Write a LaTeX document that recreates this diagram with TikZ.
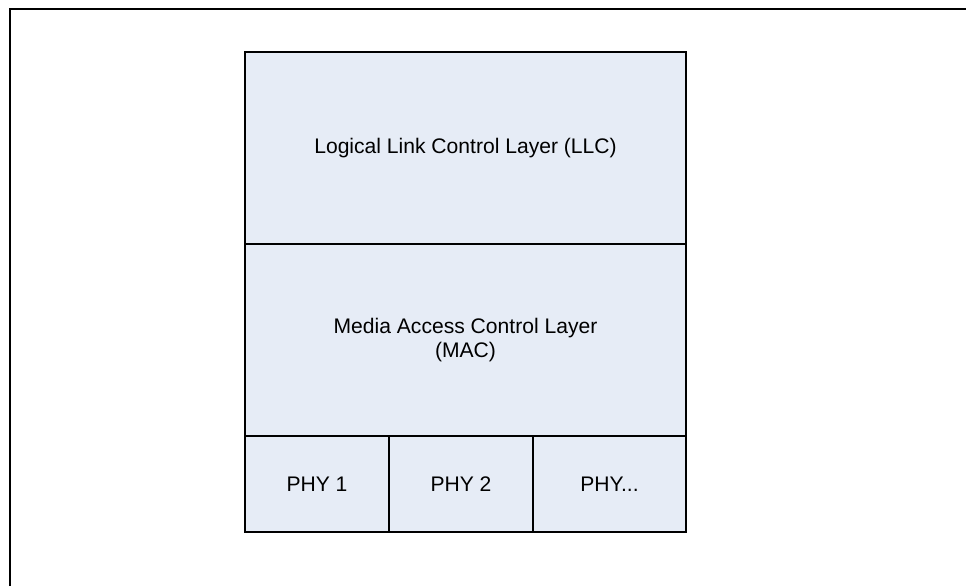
\documentclass[tikz,border=0pt]{standalone}
\usepackage{fontspec}
\setmainfont{Liberation Sans}
\definecolor{layerblue}{RGB}{230,236,246}
\usetikzlibrary{positioning}

\begin{document}
\begin{tikzpicture}[
    layer/.style={draw,line width=1.1pt,fill=layerblue,outer sep=0pt,inner sep=0pt,
        align=center,font=\fontsize{12}{13.6}\selectfont},
    wide/.style={minimum width=8.82cm,minimum height=3.84cm},
    cell/.style={minimum width=#1,minimum height=1.92cm}
]
    \useasboundingbox (0,0) rectangle (19.32,11.72);

    % Frame
    \coordinate (fbl) at (0.2,0);
    \coordinate (ftl) at (0.2,11.54);
    \coordinate (ftr) at (19.32,11.54);
    \draw[line width=1.05pt] (fbl) -- (ftl) -- (ftr);

    % Layers
    \node[layer,wide] (llc) at (9.31,8.76) {Logical Link Control Layer (LLC)};
    \node[layer,wide,below=0pt of llc] (mac) {Media Access Control Layer\\(MAC)};

    % PHY
    \node[layer,cell=2.88cm,anchor=north west] (phy1) at (mac.south west) {PHY 1};
    \node[layer,cell=2.88cm,right=0pt of phy1] (phy2) {PHY 2};
    \node[layer,cell=3.06cm,right=0pt of phy2] (phy3) {PHY...};
\end{tikzpicture}
\end{document}
